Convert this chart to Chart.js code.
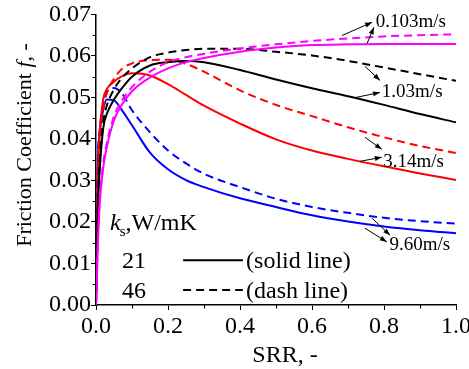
<!DOCTYPE html>
<html><head><meta charset="utf-8">
<script src="https://cdn.jsdelivr.net/npm/chart.js@4/dist/chart.umd.min.js"></script>
<style>html,body{margin:0;padding:0;background:#fff}</style>
</head><body>
<canvas id="c" width="469" height="369"></canvas>
<script>
// SRR grid shared by all curves
const srr = [0, 0.005, 0.01, 0.02, 0.03, 0.05, 0.07, 0.1, 0.15, 0.2, 0.25, 0.3, 0.4, 0.5, 0.6, 0.7, 0.8, 0.9, 1.0];
// friction coefficient, speed 0.103 m/s
const fV0103K21 = [0, 0.014, 0.024, 0.033, 0.038, 0.0445, 0.048, 0.0515, 0.0548, 0.057, 0.0585, 0.0595, 0.061, 0.062, 0.0626, 0.0628, 0.0629, 0.0629, 0.0629];
const fV0103K46 = [0, 0.015, 0.025, 0.034, 0.039, 0.0455, 0.049, 0.0525, 0.0562, 0.0585, 0.0597, 0.0605, 0.0618, 0.0628, 0.0636, 0.0642, 0.0647, 0.065, 0.0652];
// speed 1.03 m/s
const fV103K21 = [0, 0.022, 0.032, 0.0425, 0.046, 0.0495, 0.052, 0.055, 0.0577, 0.0585, 0.0588, 0.0585, 0.0566, 0.0543, 0.0522, 0.0503, 0.0482, 0.046, 0.044];
const fV103K46 = [0, 0.024, 0.034, 0.044, 0.048, 0.052, 0.0545, 0.057, 0.0597, 0.0608, 0.0614, 0.0617, 0.0617, 0.061, 0.0601, 0.0588, 0.0572, 0.0556, 0.054];
// speed 3.14 m/s
const fV314K21 = [0, 0.03, 0.041, 0.0495, 0.052, 0.0538, 0.055, 0.0558, 0.0553, 0.0532, 0.0506, 0.048, 0.0437, 0.0399, 0.0372, 0.0352, 0.0334, 0.0317, 0.0301];
const fV314K46 = [0, 0.027, 0.038, 0.047, 0.051, 0.0545, 0.0567, 0.0582, 0.059, 0.0591, 0.0581, 0.0562, 0.0517, 0.0482, 0.0455, 0.0428, 0.0404, 0.0383, 0.0366];
// speed 9.60 m/s
const fV960K21 = [0, 0.033, 0.041, 0.047, 0.0495, 0.0493, 0.0472, 0.0433, 0.0367, 0.0327, 0.0301, 0.0284, 0.0257, 0.0236, 0.0216, 0.0201, 0.0189, 0.018, 0.0173];
const fV960K46 = [0, 0.034, 0.042, 0.048, 0.0512, 0.0523, 0.0512, 0.0469, 0.0416, 0.0372, 0.0341, 0.0316, 0.0284, 0.0256, 0.0236, 0.0222, 0.021, 0.0202, 0.0196];

const xTickValues = [0, 0.2, 0.4, 0.6, 0.8, 1.0];
const xTickLabels = ['0.0', '0.2', '0.4', '0.6', '0.8', '1.0'];
const yTickValues = [0, 0.01, 0.02, 0.03, 0.04, 0.05, 0.06, 0.07];
const yTickLabels = ['0.00', '0.01', '0.02', '0.03', '0.04', '0.05', '0.06', '0.07'];

const speedLabels = ['0.103m/s', '1.03m/s', '3.14m/s', '9.60m/s'];
const ksLabels = ['21', '46'];

const FONT = '"Liberation Serif", "Times New Roman", serif';

function pts(ys) { return srr.map((x, i) => ({x: x, y: ys[i]})); }
function ds(label, ys, color, dashed) {
  return {label, data: pts(ys), borderColor: color, backgroundColor: color, borderWidth: 2,
    borderDash: dashed ? [8, 5] : [], pointRadius: 0, cubicInterpolationMode: 'monotone', fill: false};
}

// annotation layout (data coordinates)
const speedText = [
  {x: 0.777, y: 0.0669, arrows: [[0.683, 0.0649, 0.767, 0.0681], [0.753, 0.063, 0.772, 0.0669]]},
  {x: 0.794, y: 0.0500, arrows: [[0.747, 0.0575, 0.789, 0.0541], [0.722, 0.050, 0.789, 0.0512]]},
  {x: 0.798, y: 0.0332, arrows: [[0.747, 0.0404, 0.794, 0.0375], [0.733, 0.0346, 0.794, 0.0356]]},
  {x: 0.815, y: 0.0132, arrows: [[0.767, 0.0209, 0.817, 0.0168], [0.747, 0.0185, 0.808, 0.0152]]}
];

const overlay = {
  id: 'overlay',
  afterDraw(chart) {
    const ctx = chart.ctx, xs = chart.scales.x, ys = chart.scales.y, ca = chart.chartArea;
    const X = v => xs.getPixelForValue(v), Y = v => ys.getPixelForValue(v);
    ctx.save();
    ctx.strokeStyle = '#000'; ctx.fillStyle = '#000'; ctx.lineWidth = 1;
    // minor ticks
    for (let k = 0; k < 7; k++) {
      const y = Math.round(Y(0.005 + k * 0.01)) + 0.5;
      ctx.beginPath(); ctx.moveTo(ca.left - 3.5, y); ctx.lineTo(ca.left, y); ctx.stroke();
    }
    for (let k = 0; k < 5; k++) {
      const x = Math.round(X(0.1 + k * 0.2)) + 0.5;
      ctx.beginPath(); ctx.moveTo(x, ca.bottom); ctx.lineTo(x, ca.bottom + 3.5); ctx.stroke();
    }
    // speed annotations
    ctx.font = '19px ' + FONT; ctx.textBaseline = 'alphabetic'; ctx.textAlign = 'left';
    speedText.forEach((s, i) => {
      ctx.fillText(speedLabels[i], X(s.x), Y(s.y));
      s.arrows.forEach(a => {
        const x1 = X(a[0]), y1 = Y(a[1]), x2 = X(a[2]), y2 = Y(a[3]);
        ctx.beginPath(); ctx.moveTo(x1, y1); ctx.lineTo(x2, y2); ctx.stroke();
        const ang = Math.atan2(y2 - y1, x2 - x1), L = 7, W = 2.5;
        ctx.beginPath(); ctx.moveTo(x2, y2);
        ctx.lineTo(x2 - L * Math.cos(ang) + W * Math.sin(ang), y2 - L * Math.sin(ang) - W * Math.cos(ang));
        ctx.lineTo(x2 - L * Math.cos(ang) - W * Math.sin(ang), y2 - L * Math.sin(ang) + W * Math.cos(ang));
        ctx.closePath(); ctx.fill();
      });
    });
    // legend
    let lx = X(0.039), ly = Y(0.018);
    ctx.font = 'italic 24px ' + FONT; ctx.fillText('k', lx, ly);
    lx += ctx.measureText('k').width - 1;
    ctx.font = '15px ' + FONT; ctx.fillText('s', lx, ly + 6);
    lx += ctx.measureText('s').width;
    ctx.font = '24px ' + FONT; ctx.fillText(',W/mK', lx, ly);
    ctx.fillText(ksLabels[0], X(0.072), Y(0.0089));
    ctx.fillText(ksLabels[1], X(0.072), Y(0.0017));
    ctx.fillText('(solid line)', X(0.417), Y(0.0089));
    ctx.fillText('(dash line)', X(0.417), Y(0.0017));
    ctx.lineWidth = 2;
    ctx.beginPath(); ctx.moveTo(X(0.242), Y(0.0108)); ctx.lineTo(X(0.408), Y(0.0108)); ctx.stroke();
    ctx.setLineDash([8, 5]);
    ctx.beginPath(); ctx.moveTo(X(0.242), Y(0.0036)); ctx.lineTo(X(0.408), Y(0.0036)); ctx.stroke();
    ctx.setLineDash([]);
    // axis titles
    ctx.font = '24px ' + FONT; ctx.textAlign = 'center';
    ctx.fillText('SRR, -', 285, 362);
    ctx.translate(31, 145); ctx.rotate(-Math.PI / 2);
    ctx.font = '22px ' + FONT; const p1 = 'Friction Coefficient ';
    const w1 = ctx.measureText(p1).width;
    ctx.font = 'italic 22px ' + FONT; const w2 = ctx.measureText('f').width;
    ctx.font = '22px ' + FONT; const w3 = ctx.measureText(', -').width;
    let tx = -(w1 + w2 + w3) / 2; ctx.textAlign = 'left';
    ctx.fillText(p1, tx, 0); tx += w1;
    ctx.font = 'italic 22px ' + FONT; ctx.fillText('f', tx, 0); tx += w2;
    ctx.font = '22px ' + FONT; ctx.fillText(', -', tx, 0);
    ctx.restore();
  }
};

new Chart(document.getElementById('c'), {
  type: 'line',
  data: {
    datasets: [
      ds('0.103 m/s, 21', fV0103K21, '#ff00ff', false),
      ds('0.103 m/s, 46', fV0103K46, '#ff00ff', true),
      ds('1.03 m/s, 21', fV103K21, '#000000', false),
      ds('1.03 m/s, 46', fV103K46, '#000000', true),
      ds('3.14 m/s, 21', fV314K21, '#ff0000', false),
      ds('3.14 m/s, 46', fV314K46, '#ff0000', true),
      ds('9.60 m/s, 21', fV960K21, '#0000ff', false),
      ds('9.60 m/s, 46', fV960K46, '#0000ff', true)
    ]
  },
  options: {
    responsive: false, animation: false,
    layout: {padding: {top: 4, right: 0, left: 0, bottom: 0}},
    plugins: {legend: {display: false}, tooltip: {enabled: false}},
    scales: {
      x: {
        type: 'linear', min: 0, max: 1,
        afterBuildTicks: s => { s.ticks = xTickValues.map(v => ({value: v})); },
        afterFit: s => { s.height = 64; s.paddingRight = 13; },
        ticks: {callback: (v, i) => xTickLabels[i], color: '#000', font: {family: FONT, size: 24}, padding: 2, maxRotation: 0},
        grid: {display: true, drawOnChartArea: false, drawTicks: true, tickLength: 5, color: '#000', lineWidth: 1},
        border: {display: true, color: '#000', width: 1.5}
      },
      y: {
        type: 'linear', min: 0, max: 0.07,
        afterBuildTicks: s => { s.ticks = yTickValues.map(v => ({value: v})); },
        afterFit: s => { s.width = 96; },
        ticks: {callback: (v, i) => yTickLabels[i], color: '#000', font: {family: FONT, size: 24}, padding: 0},
        grid: {display: true, drawOnChartArea: false, drawTicks: true, tickLength: 5, color: '#000', lineWidth: 1},
        border: {display: true, color: '#000', width: 1.5}
      }
    }
  },
  plugins: [overlay]
});
</script>
</body></html>
